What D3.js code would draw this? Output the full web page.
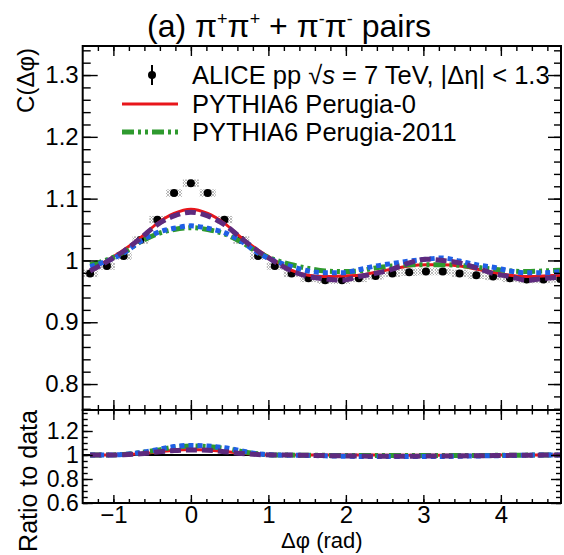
<!DOCTYPE html>
<html>
<head>
<meta charset="utf-8">
<script src="https://cdn.jsdelivr.net/npm/d3@7"></script>
<style>
  body { margin: 0; background: #fff; }
  svg { display: block; font-family: "Liberation Sans", Arial, sans-serif; }
</style>
</head>
<body>
<svg id="chart" width="564" height="555"></svg>
<script>
// bin centres in delta phi (rad)
var dphi = [-1.300, -1.083, -0.867, -0.650, -0.433, -0.217, 0.000, 0.217, 0.433, 0.650,
            0.867, 1.083, 1.300, 1.517, 1.733, 1.950, 2.167, 2.383, 2.600, 2.817,
            3.033, 3.250, 3.467, 3.683, 3.900, 4.117, 4.333, 4.550, 4.767];

// ALICE data and its systematic uncertainty
var aliceData = [0.979, 0.991, 1.007, 1.033, 1.066, 1.109, 1.125, 1.109, 1.066, 1.033,
                 1.007, 0.991, 0.979, 0.971, 0.968, 0.968, 0.971, 0.975, 0.979, 0.981,
                 0.982, 0.982, 0.979, 0.976, 0.974, 0.971, 0.969, 0.969, 0.970];
var aliceSys = [0.006, 0.006, 0.006, 0.006, 0.006, 0.006, 0.006, 0.006, 0.006, 0.006,
                0.006, 0.006, 0.006, 0.006, 0.006, 0.006, 0.006, 0.006, 0.006, 0.006,
                0.006, 0.006, 0.006, 0.006, 0.006, 0.006, 0.006, 0.006, 0.006];

// model curves, main panel
var perugia0 = [0.984, 1.000, 1.017, 1.037, 1.060, 1.076, 1.083, 1.076, 1.060, 1.037,
                1.017, 1.000, 0.984, 0.976, 0.974, 0.975, 0.976, 0.981, 0.986, 0.991,
                0.993, 0.993, 0.991, 0.986, 0.981, 0.976, 0.974, 0.975, 0.976];
var perugia2011 = [0.993, 1.001, 1.013, 1.030, 1.043, 1.050, 1.053, 1.050, 1.043, 1.030,
                   1.013, 1.001, 0.993, 0.987, 0.983, 0.982, 0.983, 0.988, 0.991, 0.993,
                   0.993, 0.993, 0.992, 0.989, 0.986, 0.983, 0.982, 0.983, 0.984];
var modelBlue = [0.990, 0.999, 1.012, 1.031, 1.045, 1.052, 1.056, 1.052, 1.045, 1.031,
                 1.012, 0.999, 0.990, 0.983, 0.980, 0.980, 0.985, 0.991, 0.995, 0.999,
                 1.002, 1.004, 0.999, 0.993, 0.989, 0.983, 0.980, 0.980, 0.982];
var modelPurple = [0.983, 0.998, 1.015, 1.036, 1.058, 1.072, 1.078, 1.072, 1.058, 1.036,
                   1.015, 0.998, 0.983, 0.974, 0.970, 0.968, 0.974, 0.979, 0.986, 0.996,
                   1.002, 1.000, 0.996, 0.988, 0.979, 0.974, 0.968, 0.971, 0.973];

// ratio to data
var ratioPerugia0 = [1.000, 1.000, 1.002, 1.010, 1.025, 1.040, 1.045, 1.042, 1.030, 1.015,
                     1.005, 1.000, 1.000, 1.000, 1.000, 0.999, 0.999, 0.999, 0.998, 0.998,
                     0.998, 0.998, 0.998, 0.998, 0.999, 0.999, 1.000, 1.000, 1.000];
var ratioPerugia2011 = [1.000, 1.000, 1.005, 1.020, 1.040, 1.065, 1.075, 1.070, 1.055, 1.030,
                        1.010, 1.000, 0.999, 0.998, 0.997, 0.996, 0.996, 0.995, 0.995, 0.995,
                        0.995, 0.995, 0.996, 0.996, 0.997, 0.998, 0.999, 1.000, 1.000];
var ratioBlue = [1.000, 1.000, 1.005, 1.020, 1.045, 1.070, 1.080, 1.075, 1.060, 1.035,
                 1.010, 1.000, 0.998, 0.996, 0.993, 0.990, 0.988, 0.987, 0.987, 0.987,
                 0.988, 0.988, 0.990, 0.992, 0.994, 0.996, 0.998, 1.000, 1.000];
var ratioPurple = [1.000, 1.000, 1.002, 1.010, 1.025, 1.038, 1.042, 1.040, 1.028, 1.013,
                   1.004, 1.000, 0.999, 0.997, 0.995, 0.993, 0.991, 0.990, 0.990, 0.990,
                   0.991, 0.991, 0.992, 0.994, 0.995, 0.997, 0.998, 0.999, 1.000];

var xTicks = [-1, 0, 1, 2, 3, 4];
var mainYTicks = [0.8, 0.9, 1.0, 1.1, 1.2, 1.3];
var ratioYTicks = [0.6, 0.8, 1.0, 1.2];
var legendLabels = ["ALICE pp", "PYTHIA6 Perugia-0", "PYTHIA6 Perugia-2011"];

var left = 82.7, right = 561, mainTop = 46, mainBottom = 410, ratioBottom = 503;
var FONT = "'Liberation Sans', Arial, sans-serif";

var svg = d3.select("#chart");

var x = d3.scaleLinear().domain([-1.396, 4.776]).range([left, right]);
var y = d3.scaleLinear().domain([0.758, 1.347]).range([mainBottom, mainTop]);
var yr = d3.scaleLinear().domain([0.6, 1.375]).range([ratioBottom, mainBottom]);

var defs = svg.append("defs");
var hatch = defs.append("pattern").attr("id", "hatch")
    .attr("patternUnits", "userSpaceOnUse").attr("width", 3).attr("height", 3);
hatch.append("path").attr("d", "M0,3 L3,0 M0,0 L3,3")
    .attr("stroke", "#aaa").attr("stroke-width", 0.8);

defs.append("clipPath").attr("id", "clipMain").append("rect")
    .attr("x", left).attr("y", mainTop).attr("width", right - left).attr("height", mainBottom - mainTop);
defs.append("clipPath").attr("id", "clipRatio").append("rect")
    .attr("x", left).attr("y", mainBottom).attr("width", right - left).attr("height", ratioBottom - mainBottom);

var styles = {
    red:    { stroke: "#e8161b", width: 3, dash: null },
    green:  { stroke: "#2e9a2e", width: 5, dash: "12,4,3,4,3,4" },
    blue:   { stroke: "#1f5fe6", width: 5, dash: "5,4" },
    purple: { stroke: "#5e2a7e", width: 5, dash: "11,5" }
};

var drawCurve = function(g, values, yScale, st) {
    var line = d3.line()
        .x(function(d, i) { return x(dphi[i]); })
        .y(function(d) { return yScale(d); })
        .curve(d3.curveMonotoneX);
    g.append("path")
        .attr("d", line(values))
        .attr("fill", "none")
        .attr("stroke", st.stroke)
        .attr("stroke-width", st.width)
        .attr("stroke-dasharray", st.dash);
};

// ---- main panel ----
var main = svg.append("g").attr("clip-path", "url(#clipMain)");

main.selectAll(".sys")
    .data(aliceData)
  .enter()
    .append("rect")
    .attr("class", "sys")
    .attr("x", function(d, i) { return x(dphi[i]) - 8; })
    .attr("width", 16)
    .attr("y", function(d, i) { return y(d + aliceSys[i]); })
    .attr("height", function(d, i) { return y(d - aliceSys[i]) - y(d + aliceSys[i]); })
    .attr("fill", "url(#hatch)");

main.selectAll(".pt")
    .data(aliceData)
  .enter()
    .append("circle")
    .attr("class", "pt")
    .attr("cx", function(d, i) { return x(dphi[i]); })
    .attr("cy", function(d) { return y(d); })
    .attr("r", 4)
    .attr("fill", "#000");

drawCurve(main, perugia0, y, styles.red);
drawCurve(main, perugia2011, y, styles.green);
drawCurve(main, modelBlue, y, styles.blue);
drawCurve(main, modelPurple, y, styles.purple);

// ---- ratio panel ----
var ratio = svg.append("g").attr("clip-path", "url(#clipRatio)");
ratio.append("line")
    .attr("x1", left).attr("x2", right)
    .attr("y1", yr(1)).attr("y2", yr(1))
    .attr("stroke", "#000").attr("stroke-width", 2);
drawCurve(ratio, ratioPerugia0, yr, styles.red);
drawCurve(ratio, ratioPerugia2011, yr, styles.green);
drawCurve(ratio, ratioBlue, yr, styles.blue);
drawCurve(ratio, ratioPurple, yr, styles.purple);

// ---- axes ----
var styleAxis = function(size) {
    return function(g) {
        g.select(".domain").remove();
        g.attr("font-family", FONT).attr("font-size", size);
        g.selectAll("line").attr("stroke", "#000").attr("stroke-width", 1.4);
        g.selectAll("text").attr("fill", "#000");
    };
};
var fmtY = function(d) { return String(+d.toFixed(2)); };

var xMinor = d3.range(-1.2, 4.7, 0.2);
var yMinor = d3.range(0.76, 1.345, 0.02);
var yrMinor = d3.range(0.6, 1.37, 0.05);

// main: left
svg.append("g").attr("transform", "translate(" + left + ",0)")
    .call(d3.axisLeft(y).tickValues(yMinor).tickSize(-8).tickFormat("")).call(styleAxis(24));
svg.append("g").attr("transform", "translate(" + left + ",0)")
    .call(d3.axisLeft(y).tickValues(mainYTicks).tickSize(-15).tickPadding(4).tickFormat(fmtY)).call(styleAxis(24));
// main: right
svg.append("g").attr("transform", "translate(" + right + ",0)")
    .call(d3.axisRight(y).tickValues(yMinor).tickSize(-7).tickFormat("")).call(styleAxis(24));
svg.append("g").attr("transform", "translate(" + right + ",0)")
    .call(d3.axisRight(y).tickValues(mainYTicks).tickSize(-13).tickFormat("")).call(styleAxis(24));
// main: top and bottom
[[mainTop, d3.axisTop], [mainBottom, d3.axisBottom]].forEach(function(p) {
    svg.append("g").attr("transform", "translate(0," + p[0] + ")")
        .call(p[1](x).tickValues(xMinor).tickSize(-5).tickFormat("")).call(styleAxis(24));
    svg.append("g").attr("transform", "translate(0," + p[0] + ")")
        .call(p[1](x).tickValues(xTicks).tickSize(-10).tickFormat("")).call(styleAxis(24));
});

// ratio: left
svg.append("g").attr("transform", "translate(" + left + ",0)")
    .call(d3.axisLeft(yr).tickValues(yrMinor).tickSize(-5).tickFormat("")).call(styleAxis(23));
svg.append("g").attr("transform", "translate(" + left + ",0)")
    .call(d3.axisLeft(yr).tickValues(ratioYTicks).tickSize(-10).tickPadding(4).tickFormat(fmtY)).call(styleAxis(23));
// ratio: right
svg.append("g").attr("transform", "translate(" + right + ",0)")
    .call(d3.axisRight(yr).tickValues(yrMinor).tickSize(-5).tickFormat("")).call(styleAxis(23));
svg.append("g").attr("transform", "translate(" + right + ",0)")
    .call(d3.axisRight(yr).tickValues(ratioYTicks).tickSize(-10).tickFormat("")).call(styleAxis(23));
// ratio: top
svg.append("g").attr("transform", "translate(0," + mainBottom + ")")
    .call(d3.axisTop(x).tickValues(xMinor).tickSize(-4.5).tickFormat("")).call(styleAxis(24));
svg.append("g").attr("transform", "translate(0," + mainBottom + ")")
    .call(d3.axisTop(x).tickValues(xTicks).tickSize(-10).tickFormat("")).call(styleAxis(24));
// ratio: bottom with labels
svg.append("g").attr("transform", "translate(0," + ratioBottom + ")")
    .call(d3.axisBottom(x).tickValues(xMinor).tickSize(-4).tickFormat("")).call(styleAxis(24));
svg.append("g").attr("transform", "translate(0," + ratioBottom + ")")
    .call(d3.axisBottom(x).tickValues(xTicks).tickSize(-8).tickPadding(3).tickFormat(d3.format("d"))).call(styleAxis(24));

// frames
[[mainTop, mainBottom], [mainBottom, ratioBottom]].forEach(function(p) {
    svg.append("rect")
        .attr("x", left).attr("y", p[0])
        .attr("width", right - left).attr("height", p[1] - p[0])
        .attr("fill", "none").attr("stroke", "#000").attr("stroke-width", 2);
});

// ---- titles ----
var title = svg.append("text")
    .attr("x", 289).attr("y", 37)
    .attr("text-anchor", "middle")
    .attr("font-family", FONT).attr("font-size", 32);
var titleParts = [["(a) π", 0], ["+", 1], ["π", 0], ["+", 1], [" + π", 0], ["-", 1], ["π", 0], ["-", 1], [" pairs", 0]];
var shift = 0;
titleParts.forEach(function(p) {
    var dy = p[1] ? -12 - shift : -shift;
    shift = p[1] ? -12 : 0;
    title.append("tspan").attr("dy", dy)
        .attr("font-size", p[1] ? 18 : 32)
        .text(p[0]);
});

svg.append("text")
    .attr("transform", "translate(34,48) rotate(-90)")
    .attr("text-anchor", "end")
    .attr("font-family", FONT).attr("font-size", 24)
    .text("C(Δφ)");

svg.append("text")
    .attr("transform", "translate(37,481) rotate(-90)")
    .attr("text-anchor", "middle")
    .attr("font-family", FONT).attr("font-size", 25)
    .text("Ratio to data");

svg.append("text")
    .attr("x", (left + right) / 2).attr("y", 548)
    .attr("text-anchor", "middle")
    .attr("font-family", FONT).attr("font-size", 22)
    .text("Δφ (rad)");

// ---- legend ----
var legendY = [75, 104, 132];
var textX = 192;
svg.append("line")
    .attr("x1", 152).attr("x2", 152).attr("y1", legendY[0] - 10).attr("y2", legendY[0] + 10)
    .attr("stroke", "#000").attr("stroke-width", 2);
svg.append("circle").attr("cx", 152).attr("cy", legendY[0]).attr("r", 4).attr("fill", "#000");

var t0 = svg.append("text").attr("x", textX).attr("y", legendY[0] + 9)
    .attr("font-family", FONT).attr("font-size", 25.5);
t0.append("tspan").text(legendLabels[0] + " √");
t0.append("tspan").attr("font-style", "italic").text("s");
t0.append("tspan").text(" = 7 TeV, |Δη| < 1.3");

[[styles.red, 1], [styles.green, 2]].forEach(function(p) {
    svg.append("line")
        .attr("x1", 122).attr("x2", 178)
        .attr("y1", legendY[p[1]]).attr("y2", legendY[p[1]])
        .attr("stroke", p[0].stroke).attr("stroke-width", p[0].width)
        .attr("stroke-dasharray", p[0].dash);
    svg.append("text").attr("x", textX).attr("y", legendY[p[1]] + 9)
        .attr("font-family", FONT).attr("font-size", 25.5)
        .text(legendLabels[p[1]]);
});
</script>
</body>
</html>
